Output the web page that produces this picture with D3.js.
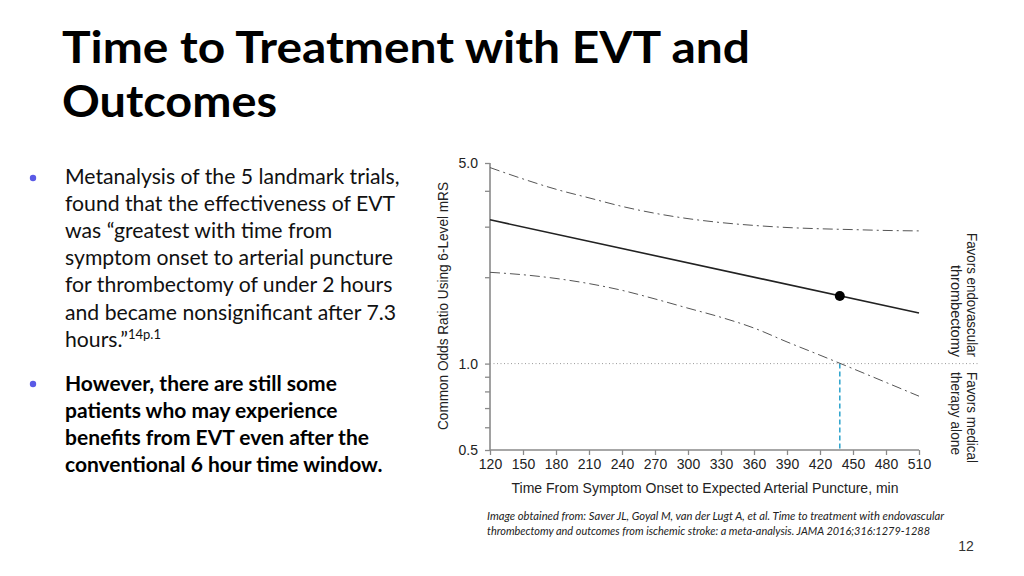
<!DOCTYPE html>
<html><head><meta charset="utf-8">
<script src="https://cdn.jsdelivr.net/npm/d3@7"></script>
<style>
html,body{margin:0;padding:0;background:#fff;}
svg{display:block;}
</style></head>
<body>
<svg id="c" width="1024" height="576"></svg>
<script>
// ---- data ----
const titleLines = ["Time to Treatment with EVT and", "Outcomes"];
const bullet1 = ["Metanalysis of the 5 landmark trials,", "found that the effectiveness of EVT", "was \u201Cgreatest with time from", "symptom onset to arterial puncture", "for thrombectomy of under 2 hours", "and became nonsignificant after 7.3", "hours.\u201D"];
const bullet1Sup = "14p.1";
const bullet2 = ["However, there are still some", "patients who may experience", "benefits from EVT even after the", "conventional 6 hour time window."];
const footnote = ["Image obtained from: Saver JL, Goyal M, van der Lugt A, et al. Time to treatment with endovascular", "thrombectomy and outcomes from ischemic stroke: a meta-analysis. JAMA 2016;316:1279-1288"];
const pageNumber = "12";

const xTicks = [120,150,180,210,240,270,300,330,360,390,420,450,480,510];
const yTicks = [0.5,0.6,0.7,0.8,0.9,1,2,3,4,5];
const yTickLabels = {0.5:"0.5", 1:"1.0", 5:"5.0"};

const ciTimes = [120,150,180,210,240,270,300,330,360,390,420,450,480,510];
const upperCI = [4.82,4.40,4.05,3.78,3.53,3.34,3.20,3.10,3.03,2.98,2.95,2.93,2.91,2.90];
const lowerCI = [2.08,2.04,1.98,1.90,1.80,1.68,1.56,1.45,1.33,1.19,1.07,0.96,0.86,0.77];
const centralTimes = [120, 510];
const centralOR = [3.17, 1.50];
const pointTime = [438];
const pointOR = [1.72];
const crossTime = [438];
const refOR = [1.0];

const xTitle = "Time From Symptom Onset to Expected Arterial Puncture, min";
const yTitle = "Common Odds Ratio Using 6-Level mRS";
const favorsTop = ["Favors endovascular", "thrombectomy"];
const favorsBottom = ["Favors medical", "therapy alone"];

// ---- drawing ----
const svg = d3.select("#c");
const txtFont = "Lato, 'Open Sans', sans-serif";
const chartFont = "'Liberation Sans', Arial, sans-serif";

// title
svg.append("g").selectAll("text").data(titleLines).join("text")
  .attr("x", 62).attr("y", (d,i)=>63+i*54)
  .attr("font-family", txtFont).attr("font-weight", 700)
  .attr("font-size", 44).attr("fill", "#000")
  .attr("textLength", (d,i)=> i===0 ? 688 : 215)
  .attr("lengthAdjust", "spacingAndGlyphs")
  .text(d=>d);

// bullets
const bg = svg.append("g").attr("font-family", txtFont).attr("font-size", 21.2).attr("fill","#111");
bg.selectAll("circle").data([178, 384]).join("circle")
  .attr("cx", 33).attr("cy", d=>d).attr("r", 3.2).attr("fill", "#5a5ae6");
const t1 = bg.selectAll("text.b1").data(bullet1).join("text").attr("class","b1")
  .attr("x", 65).attr("y", (d,i)=>184+i*27.1).text(d=>d);
t1.filter((d,i)=>i===bullet1.length-1).append("tspan")
  .attr("dy", -8).attr("font-size", 13).text(bullet1Sup);
bg.selectAll("text.b2").data(bullet2).join("text").attr("class","b2")
  .attr("x", 65).attr("y", (d,i)=>391+i*27.1).attr("font-weight", 700).attr("fill","#000")
  .attr("font-size", 21).text(d=>d);

// chart
const x = d3.scaleLinear().domain([120,510]).range([490,919]);
const y = d3.scaleLog().domain([0.5,5]).range([450,163]);
const axisColor = "#8a8a8a";

const yAxis = svg.append("g").attr("transform","translate(490,0)")
  .call(d3.axisLeft(y).tickValues(yTicks).tickSize(5).tickPadding(7)
    .tickFormat(d => yTickLabels[d] !== undefined ? yTickLabels[d] : ""));
const xAxis = svg.append("g").attr("transform","translate(0,450)")
  .call(d3.axisBottom(x).tickValues(xTicks).tickSize(5).tickPadding(4).tickFormat(d3.format("d")));
[xAxis, yAxis].forEach(a=>{
  a.select(".domain").attr("stroke", axisColor).attr("stroke-width", 1.6);
  a.selectAll(".tick line").attr("stroke", axisColor).attr("stroke-width", 1.3);
  a.selectAll("text").attr("font-family", chartFont).attr("font-size", 14).attr("fill","#222");
});
yAxis.select(".domain").attr("d", "M0,450V163");
xAxis.select(".domain").attr("d", "M490,0H919");

// reference line OR = 1
svg.append("g").selectAll("line").data(refOR).join("line")
  .attr("x1", x(120)).attr("x2", 978).attr("y1", d=>y(d)).attr("y2", d=>y(d))
  .attr("stroke", "#9a9a9a").attr("stroke-width", 1).attr("stroke-dasharray", "1,2.5");

// cyan crossing line
svg.append("g").selectAll("line").data(crossTime).join("line")
  .attr("x1", d=>x(d)).attr("x2", d=>x(d)).attr("y1", y(1)).attr("y2", y(0.5))
  .attr("stroke", "#2aa3cc").attr("stroke-width", 1.5).attr("stroke-dasharray", "5,3");

// CI curves
const ciLine = d3.line().curve(d3.curveMonotoneX);
[upperCI, lowerCI].forEach(arr=>{
  svg.append("path")
    .attr("d", ciLine(ciTimes.map((t,i)=>[x(t), y(arr[i])])))
    .attr("fill","none").attr("stroke","#555").attr("stroke-width",1)
    .attr("stroke-dasharray","10,4,2,4");
});

// central line
svg.append("path")
  .attr("d", d3.line()(centralTimes.map((t,i)=>[x(t), y(centralOR[i])])))
  .attr("fill","none").attr("stroke","#222").attr("stroke-width",1.6);

// point
svg.append("g").selectAll("circle").data(pointTime).join("circle")
  .attr("cx", d=>x(d)).attr("cy", (d,i)=>y(pointOR[i])).attr("r", 5).attr("fill","#000");

// axis titles
svg.append("text").attr("x", 705).attr("y", 493).attr("text-anchor","middle")
  .attr("font-family", chartFont).attr("font-size", 14.5).attr("fill","#222")
  .attr("textLength", 387).attr("lengthAdjust","spacingAndGlyphs").text(xTitle);
svg.append("text").attr("transform","translate(448,306) rotate(-90)").attr("text-anchor","middle")
  .attr("font-family", chartFont).attr("font-size", 14.5).attr("fill","#222")
  .attr("textLength", 248).attr("lengthAdjust","spacingAndGlyphs").text(yTitle);

// favors labels
const favLens1 = [124, 92], favLens2 = [91, 83];
favorsTop.forEach((t,i)=>{
  svg.append("text").attr("transform", `translate(${967-i*16},357) rotate(90)`)
    .attr("text-anchor","end").attr("font-family", chartFont).attr("font-size", 14.5).attr("fill","#222")
    .attr("textLength", favLens1[i]).attr("lengthAdjust","spacingAndGlyphs").text(t);
});
favorsBottom.forEach((t,i)=>{
  svg.append("text").attr("transform", `translate(${967-i*16},372) rotate(90)`)
    .attr("text-anchor","start").attr("font-family", chartFont).attr("font-size", 14.5).attr("fill","#222")
    .attr("textLength", favLens2[i]).attr("lengthAdjust","spacingAndGlyphs").text(t);
});

// footnote
svg.append("g").selectAll("text").data(footnote).join("text")
  .attr("x", 487).attr("y", (d,i)=>520+i*14.5)
  .attr("font-family", txtFont).attr("font-style","italic").attr("font-size", 10.5).attr("fill","#222")
  .attr("textLength", (d,i)=> i===0 ? 457 : 443).attr("lengthAdjust","spacingAndGlyphs")
  .text(d=>d);

// page number
svg.append("text").attr("x", 966).attr("y", 551).attr("text-anchor","middle")
  .attr("font-family", chartFont).attr("font-size", 14).attr("fill","#333").text(pageNumber);
</script>
</body></html>
